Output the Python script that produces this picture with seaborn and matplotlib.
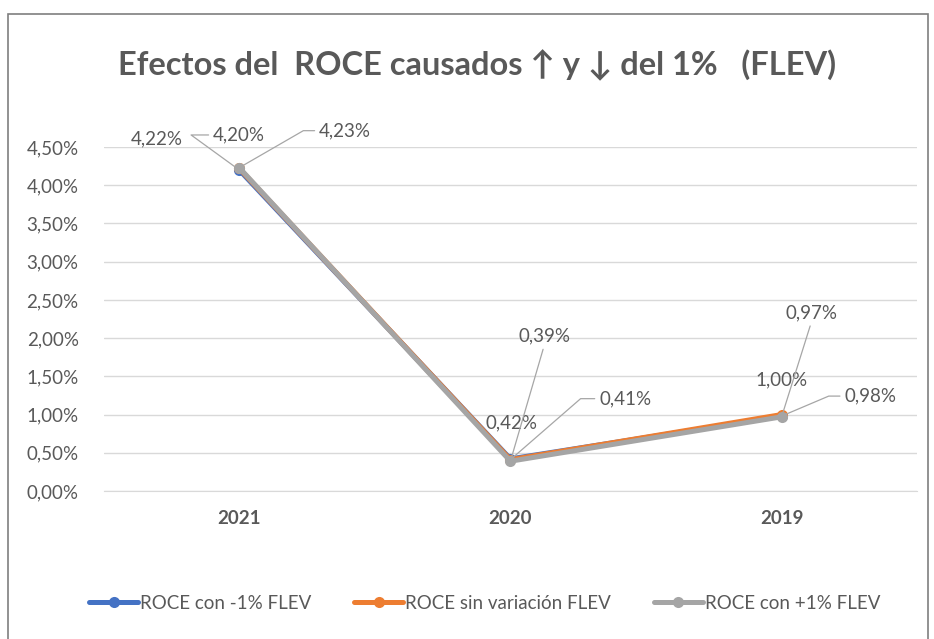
import matplotlib
matplotlib.use("Agg")
import matplotlib.pyplot as plt
import matplotlib.patches as mpatches
from matplotlib.ticker import FuncFormatter, MultipleLocator
import pandas as pd
import seaborn as sns

# data
years = ["2021", "2020", "2019"]
series_names = ["ROCE con -1% FLEV", "ROCE sin variación FLEV", "ROCE con +1% FLEV"]
roce_menos = [4.20, 0.42, 0.98]
roce_sin = [4.22, 0.41, 1.00]
roce_mas = [4.23, 0.39, 0.97]
colors = ["#4472C4", "#ED7D31", "#A5A5A5"]

sns.set_style("white")
plt.rcParams["font.family"] = ["Lato", "DejaVu Sans"]

rows = []
for name, vals in zip(series_names, [roce_menos, roce_sin, roce_mas]):
    for y, v in zip(years, vals):
        rows.append({"year": y, "value": v, "serie": name})
df = pd.DataFrame(rows)

fig = plt.figure(figsize=(9.34, 6.39), dpi=100)
ax = fig.add_axes([0.111, 0.2316, 0.871, 0.5383])

sns.lineplot(data=df, x="year", y="value", hue="serie", palette=colors,
             sort=False, marker="o", markersize=8, markeredgewidth=0,
             linewidth=3.6, ax=ax, legend=False)

txt = "#595959"
fs = 13.5
ax.set_ylim(0, 4.5)
ax.set_xlim(-0.5, 2.5)
ax.yaxis.set_major_locator(MultipleLocator(0.5))
ax.yaxis.set_major_formatter(FuncFormatter(lambda v, p: f"{v:.2f}%".replace(".", ",")))
ax.grid(axis="y", color="#d9d9d9", linewidth=1)
ax.set_axisbelow(True)
for s in ["left", "right", "top"]:
    ax.spines[s].set_visible(False)
ax.spines["bottom"].set_color("#d9d9d9")
ax.tick_params(axis="y", length=0, labelsize=fs, labelcolor=txt, pad=18)
ax.tick_params(axis="x", length=0, labelsize=fs, labelcolor=txt, pad=14)
for lab in ax.get_xticklabels():
    lab.set_fontweight("bold")
ax.set_xlabel("")
ax.set_ylabel("")

fmt = lambda v: f"{v:.2f}%".replace(".", ",")
lead = dict(arrowstyle="-", color="#a6a6a6", lw=0.9, shrinkA=1, shrinkB=3)


def label(i, vals, dx, dy, relpos=None, conn="arc3"):
    kw = {}
    if relpos is not None:
        kw["arrowprops"] = dict(lead, relpos=relpos, connectionstyle=conn)
    ax.annotate(fmt(vals[i]), (i, vals[i]), xytext=(dx, dy), textcoords="offset pixels",
                ha="center", va="center", fontsize=fs, color=txt,
                annotation_clip=False, **kw)


# data labels (offsets in pixels from the point)
label(0, roce_sin, -82, 30)
label(0, roce_menos, 0, 35, (0, 0.5), "angle,angleA=0,angleB=144,rad=0")
label(0, roce_mas, 106, 37, (0, 0.5), "angle,angleA=0,angleB=30,rad=0")
label(1, roce_menos, 1, 36)
label(1, roce_mas, 34, 125, (0.5, 0))
label(1, roce_sin, 115, 61, (0, 0.5), "angle,angleA=0,angleB=41,rad=0")
label(2, roce_sin, 0, 35)
label(2, roce_mas, 30, 104, (0.5, 0))
label(2, roce_menos, 89, 20, (0, 0.5), "angle,angleA=0,angleB=23,rad=0")

fig.text(0.511, 0.898, "Efectos del  ROCE causados \u2191 y \u2193 del 1%   (FLEV)",
         ha="center", va="center", fontsize=23.5, fontweight="bold", color=txt)

handles = [plt.Line2D([], [], color=c, lw=3.6, marker="o", markersize=8, markeredgewidth=0)
           for c in colors]
fig.legend(handles, series_names, loc="center", bbox_to_anchor=(0.519, 0.056), ncol=3,
           frameon=False, fontsize=fs, labelcolor=txt, handlelength=2.6, handletextpad=0.1,
           columnspacing=2.3)

fig.patches.append(mpatches.Rectangle((0.009, -0.01), 0.985, 0.988, transform=fig.transFigure,
                                      fill=False, edgecolor="#7f7f7f", lw=1.2))

fig.savefig("out.png", dpi=100)
